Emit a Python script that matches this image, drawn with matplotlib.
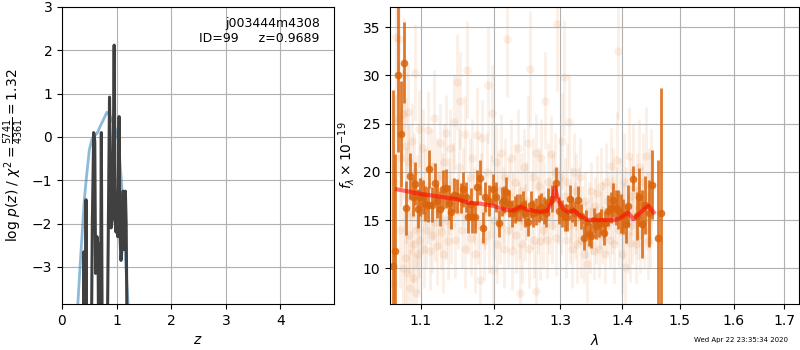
import matplotlib
matplotlib.use('Agg')
import matplotlib.pyplot as plt
from matplotlib.ticker import NullLocator, FixedLocator, FixedFormatter

# p(z) panel
pz_z = [0.30, 0.39, 0.40, 0.41, 0.43, 0.44, 0.455, 0.53, 0.555, 0.58, 0.60, 0.615,
        0.64, 0.66, 0.675, 0.70, 0.72, 0.74, 0.78, 0.82, 0.87, 0.90, 0.93, 0.955,
        0.975, 0.99, 1.0, 1.02, 1.045, 1.06, 1.08, 1.10, 1.12, 1.135, 1.16, 1.175,
        1.20, 1.30]
pz_logp = [-6, -6, -2.65, -6, -6, -1.45, -6, -6, -2.0, 0.1, -0.1, -3.15,
           -2.3, -2.5, -6, -6, 0.1, -6, -6, -6, 0.92, -2.1, -1.8, 2.12,
           -1.9, -2.2, -1.3, -2.3, 0.47, -2.2, -2.85, -2.5, -1.25, -2.6, -1.25, -2.0,
           -6, -6]
chi_z = [0.26, 0.29, 0.33, 0.41, 0.45, 0.50, 0.55, 0.58, 0.65, 0.70, 0.76, 0.82,
         0.88, 0.95, 1.03, 1.09, 1.135, 1.17, 1.21, 1.25]
chi_v = [-5.0, -3.86, -3.0, -1.43, -0.9, -0.3, -0.05, 0.0, 0.1, 0.25, 0.4, 0.57,
         0.48, 0.3, -0.06, -1.06, -2.2, -3.0, -3.86, -5.0]

# spectrum, binned
bin_wave = [1.0639, 1.067, 1.0705, 1.0745, 1.0784, 1.081, 1.0855, 1.089, 1.0925, 1.0956,
            1.0987, 1.1023, 1.1056, 1.1088, 1.1107, 1.1144, 1.1186, 1.1219, 1.1256, 1.1293,
            1.1335, 1.1372, 1.1405, 1.1451, 1.1488, 1.1535, 1.1572, 1.1614, 1.1642, 1.1674,
            1.1698, 1.173, 1.1767, 1.18, 1.1847, 1.1884, 1.193, 1.1991, 1.2035, 1.208,
            1.2119, 1.2149, 1.2188, 1.2228, 1.2272, 1.2312, 1.2347, 1.2386, 1.2426, 1.2465,
            1.2505, 1.2545, 1.2584, 1.2634, 1.2668, 1.2703, 1.2743, 1.2782, 1.2817, 1.2866,
            1.293, 1.298, 1.3032, 1.307, 1.3108, 1.3151, 1.3189, 1.3232, 1.3286, 1.3324,
            1.3367, 1.341, 1.3454, 1.3491, 1.3529, 1.3572, 1.3616, 1.3653, 1.3691, 1.3723,
            1.3767, 1.381, 1.3853, 1.3891, 1.3935, 1.3972, 1.4018, 1.4059, 1.4105, 1.4181,
            1.4251, 1.4281, 1.4339, 1.4386, 1.4456, 1.4515, 1.462, 1.4661]
bin_flux = [10.3, 11.8, 30.1, 23.9, 31.3, 16.3, 19.6, 17.4, 18.8, 16.2,
            17.4, 17.4, 16.7, 16.6, 20.3, 16.6, 18.9, 17.0, 16.2, 18.2,
            18.3, 16.8, 15.9, 17.6, 17.5, 17.3, 18.2, 17.4, 15.3, 16.7,
            15.3, 15.3, 18.4, 19.4, 14.2, 17.4, 17.0, 18.2, 17.4, 14.7,
            16.9, 17.1, 17.9, 16.7, 15.7, 16.1, 16.3, 16.3, 16.6, 15.7,
            14.8, 16.6, 15.7, 15.9, 16.2, 16.4, 16.0, 15.7, 16.9, 17.2,
            18.9, 16.0, 15.7, 15.3, 15.3, 17.2, 16.1, 15.7, 17.1, 15.4,
            13.2, 14.8, 13.6, 13.4, 15.0, 14.4, 14.6, 14.9, 13.7, 14.7,
            16.0, 16.3, 17.1, 16.3, 16.1, 15.7, 15.4, 14.6, 16.5, 19.3,
            15.4, 17.4, 14.6, 16.6, 15.7, 18.7, 13.2, 15.7]
bin_err = [18.2, 10.1, 8.0, 5.5, 4.2, 2.8, 2.4, 2.0, 2.2, 2.0,
           2.0, 1.8, 1.8, 1.8, 2.0, 1.8, 2.0, 1.8, 1.8, 2.0,
           2.0, 1.8, 1.8, 1.8, 1.8, 1.6, 1.8, 1.6, 1.6, 1.6,
           1.6, 1.6, 1.8, 1.8, 1.6, 1.6, 1.6, 1.6, 1.6, 1.4,
           1.5, 1.4, 1.6, 1.4, 1.4, 1.4, 1.4, 1.4, 1.4, 1.4,
           1.4, 1.4, 1.4, 1.4, 1.4, 1.4, 1.4, 1.4, 1.4, 1.4,
           1.6, 1.4, 1.4, 1.4, 1.4, 1.4, 1.3, 1.3, 1.4, 1.3,
           1.3, 1.3, 1.3, 1.3, 1.3, 1.3, 1.3, 1.3, 1.3, 1.3,
           1.6, 1.6, 1.8, 1.8, 2.0, 2.0, 1.8, 2.0, 2.2, 1.3,
           2.5, 3.0, 3.5, 3.0, 3.5, 3.6, 8.0, 13.0]

# spectrum, unbinned
raw_wave = [1.064, 1.066, 1.068, 1.070, 1.071, 1.073, 1.074, 1.076, 1.077, 1.078,
            1.079, 1.080, 1.081, 1.082, 1.083, 1.084, 1.085, 1.086, 1.087, 1.088,
            1.089, 1.090, 1.091, 1.092, 1.093, 1.094, 1.095, 1.096, 1.097, 1.098,
            1.099, 1.101, 1.103, 1.104, 1.106, 1.107, 1.109, 1.110, 1.112, 1.113,
            1.115, 1.116, 1.118, 1.119, 1.121, 1.122, 1.124, 1.125, 1.127, 1.128,
            1.130, 1.131, 1.133, 1.134, 1.136, 1.138, 1.139, 1.141, 1.143, 1.145,
            1.146, 1.148, 1.150, 1.151, 1.153, 1.155, 1.157, 1.159, 1.160, 1.162,
            1.164, 1.166, 1.168, 1.170, 1.172, 1.174, 1.176, 1.178, 1.180, 1.182,
            1.184, 1.186, 1.188, 1.190, 1.192, 1.194, 1.196, 1.198, 1.199, 1.201,
            1.203, 1.205, 1.207, 1.209, 1.211, 1.213, 1.215, 1.217, 1.219, 1.221,
            1.223, 1.225, 1.227, 1.229, 1.231, 1.233, 1.235, 1.237, 1.238, 1.240,
            1.242, 1.244, 1.246, 1.248, 1.250, 1.252, 1.254, 1.256, 1.258, 1.260,
            1.262, 1.263, 1.265, 1.267, 1.269, 1.271, 1.273, 1.275, 1.277, 1.279,
            1.281, 1.283, 1.285, 1.287, 1.289, 1.291, 1.293, 1.295, 1.297, 1.299,
            1.301, 1.303, 1.305, 1.307, 1.309, 1.311, 1.313, 1.315, 1.317, 1.319,
            1.321, 1.323, 1.325, 1.327, 1.329, 1.331, 1.333, 1.335, 1.337, 1.339,
            1.341, 1.343, 1.345, 1.347, 1.349, 1.351, 1.353, 1.355, 1.357, 1.359,
            1.361, 1.363, 1.365, 1.367, 1.369, 1.371, 1.373, 1.375, 1.377, 1.379,
            1.381, 1.383, 1.385, 1.387, 1.389, 1.391, 1.393, 1.395, 1.397, 1.399,
            1.401, 1.403, 1.405, 1.407, 1.409, 1.411, 1.413, 1.415, 1.417, 1.419,
            1.421, 1.423, 1.425, 1.427, 1.429, 1.431, 1.433, 1.435, 1.437, 1.440,
            1.442, 1.444, 1.446, 1.448, 1.450]
raw_flux = [8.5, 19.0, 34.0, 25.5, 33.8, 14.0, 21.5, 10.0, 26.0, 30.0,
            11.1, 22.7, 17.5, 9.5, 26.2, 13.5, 21.0, 8.0, 15.5, 23.2,
            9.0, 12.5, 20.0, 30.3, 14.0, 7.5, 17.8, 11.5, 24.5, 13.0,
            19.0, 15.5, 22.5, 12.0, 18.5, 14.0, 24.4, 16.5, 11.8, 20.5,
            13.5, 17.0, 25.6, 14.8, 19.5, 12.3, 16.0, 23.0, 13.8, 18.0,
            11.5, 21.0, 15.0, 24.0, 12.8, 17.5, 22.5, 14.5, 19.0, 25.2,
            13.0, 29.3, 16.0, 20.5, 27.4, 14.0, 18.5, 12.0, 23.9, 30.6,
            15.5, 19.5, 13.2, 21.5, 16.5, 11.5, 23.8, 14.5, 8.8, 18.0,
            23.5, 12.8, 16.0, 20.0, 29.0, 13.5, 17.8, 26.1, 9.8, 15.0,
            21.0, 12.5, 18.0, 14.5, 22.0, 16.5, 12.0, 19.5, 33.8, 14.0,
            17.5, 21.5, 11.8, 16.0, 19.0, 13.5, 22.5, 15.0, 7.5, 18.0,
            12.5, 20.5, 14.8, 17.0, 23.0, 12.0, 30.7, 16.0, 19.5, 13.0,
            7.7, 22.0, 15.5, 18.5, 12.8, 21.5, 14.0, 17.0, 27.4, 13.0,
            19.0, 15.5, 21.9, 14.5, 18.0, 20.0, 13.2, 35.3, 16.5, 19.5,
            15.5, 23.2, 29.8, 17.5, 13.0, 19.0, 25.2, 14.5, 16.5, 12.0,
            20.0, 15.0, 18.0, 12.5, 16.5, 19.5, 13.0, 15.5, 11.5, 17.0,
            14.0, 10.5, 16.0, 12.5, 18.0, 14.5, 11.8, 16.5, 13.5, 17.8,
            12.0, 15.0, 18.5, 13.5, 16.0, 11.5, 19.0, 14.5, 17.0, 13.0,
            20.6, 15.5, 18.5, 12.5, 16.5, 21.2, 32.5, 14.0, 17.5, 11.5,
            15.0, 19.0, 10.2, 16.5, 13.5, 21.7, 12.6, 17.5, 14.5, 20.0,
            15.5, 12.5, 18.0, 15.0, 20.5, 13.5, 16.5, 19.0, 14.0, 21.7,
            16.0, 12.8, 17.5, 15.0, 18.5]
raw_err = [8, 9, 9, 6, 6, 6, 5, 6, 5, 6,
           5, 5, 5, 4, 5, 4, 4, 4, 4, 4,
           4, 4, 4, 5, 4, 4, 4, 4, 4, 4,
           4, 4, 4, 4, 4, 4, 4, 4, 4, 4,
           4, 4, 5, 4, 4, 4, 4, 4, 4, 4,
           4, 4, 4, 4, 4, 4, 4, 4, 4, 5,
           4, 5, 4, 4, 5, 4, 4, 4, 4, 5,
           4, 4, 4, 4, 4, 4, 5, 4, 5, 4,
           4, 4, 4, 4, 6, 4, 4, 5, 5, 4,
           4, 4, 4, 4, 4, 4, 4, 4, 6, 4,
           4, 4, 4, 4, 4, 4, 4, 4, 5, 4,
           4, 4, 4, 4, 5, 4, 6, 4, 4, 4,
           5, 4, 4, 4, 4, 4, 4, 4, 5, 4,
           4, 4, 4, 4, 4, 4, 4, 7, 4, 4,
           4, 5, 6, 4, 4, 4, 5, 4, 4, 4,
           4, 4, 4, 4, 4, 4, 4, 3, 3, 3,
           3, 4, 3, 3, 3, 3, 3, 3, 3, 4,
           3, 3, 4, 3, 3, 3, 4, 3, 3, 3,
           4, 4, 4, 4, 4, 5, 7, 4, 4, 4,
           4, 5, 5, 4, 4, 5, 4, 4, 4, 5,
           4, 4, 4, 4, 5, 4, 4, 5, 4, 5,
           4, 4, 5, 5, 6]

# model
model_wave = [1.069, 1.102, 1.149, 1.163, 1.181, 1.200, 1.220, 1.2297, 1.2396, 1.2495,
              1.2693, 1.2792, 1.2866, 1.2916, 1.297, 1.305, 1.313, 1.321, 1.332, 1.343,
              1.386, 1.396, 1.410, 1.419, 1.437, 1.445, 1.454]
model_flux = [18.2, 17.7, 17.17, 16.83, 16.72, 16.48, 16.03, 16.03, 16.4, 16.1,
              15.86, 15.96, 16.83, 18.38, 17.0, 16.14, 15.8, 16.03, 15.44, 15.03,
              15.0, 15.2, 15.8, 15.1, 16.14, 16.48, 15.8]

orange = '#d9640c'

fig = plt.figure(figsize=(8, 3.5), dpi=100)
ax1 = fig.add_axes([0.0775, 0.131, 0.34, 0.849])
ax2 = fig.add_axes([0.4875, 0.131, 0.511, 0.849])

ax1.plot(chi_z, chi_v, color='#1f77b4', alpha=0.5, lw=2)
ax1.plot(pz_z, pz_logp, color='0.25', lw=2.2)
ax1.set_xlim(0, 4.98)
ax1.set_ylim(-3.86, 3)
ax1.set_xlabel('$z$')
ax1.set_ylabel(r'log $p(z)$ / $\chi^2=\frac{5741}{4361}=1.32$')
ax1.text(0.948, 0.966, 'j003444m4308\nID=99     z=0.9689', ha='right', va='top',
         fontsize=9, transform=ax1.transAxes)
ax1.grid()

ax2.errorbar(raw_wave, raw_flux, yerr=raw_err, fmt='o', color=orange, ms=6,
             alpha=0.1, elinewidth=2, mec='none', zorder=1)
ax2.errorbar(bin_wave, bin_flux, yerr=bin_err, fmt='o', color=orange, ms=5.5,
             alpha=0.85, elinewidth=2, mec='none', zorder=2)
ax2.plot(model_wave, model_flux, color='r', alpha=0.55, lw=3, zorder=3)
ax2.set_xscale('log')
ax2.set_xlim(1.06, 1.73)
ax2.set_ylim(6.3, 37.1)
ticks = [1.1, 1.2, 1.3, 1.4, 1.5, 1.6, 1.7]
ax2.xaxis.set_major_locator(FixedLocator(ticks))
ax2.xaxis.set_major_formatter(FixedFormatter(['%.1f' % t for t in ticks]))
ax2.xaxis.set_minor_locator(NullLocator())
ax2.set_xlabel(r'$\lambda$')
ax2.set_ylabel(r'$f_\lambda\times10^{-19}$')
ax2.grid()

fig.text(0.985, 0.02, 'Wed Apr 22 23:35:34 2020', ha='right', va='bottom', fontsize=5)

fig.savefig('out.png', dpi=100)
